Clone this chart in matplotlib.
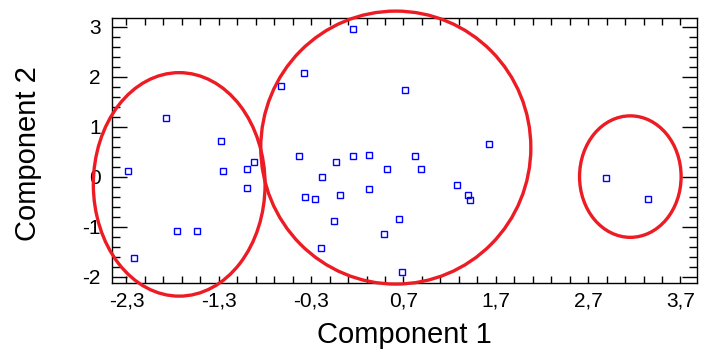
import matplotlib
matplotlib.use("Agg")
import matplotlib.pyplot as plt
from matplotlib.patches import Ellipse
from matplotlib.ticker import FixedLocator, FuncFormatter
import numpy as np

plt.rcParams['font.family'] = ['Liberation Sans', 'DejaVu Sans']

comp1 = [-2.28, -1.87, -2.22, -1.75, -1.54, -1.28, -1.26, -0.99, -0.92, -0.99, -0.63,
         0.157, -0.374, 0.72, 1.63, -0.428, -0.027, 0.157, 0.33, 0.83, 0.525, 0.894,
         -0.179, 1.284, 1.40, 1.425, -0.363, -0.254, 0.016, 0.33, -0.049, 0.656,
         0.493, -0.19, 0.688, 2.89, 3.35]
comp2 = [0.11, 1.17, -1.63, -1.09, -1.09, 0.71, 0.11, 0.15, 0.29, -0.23, 1.81,
         2.95, 2.07, 1.73, 0.65, 0.41, 0.29, 0.41, 0.43, 0.41, 0.15, 0.15,
         -0.01, -0.17, -0.37, -0.47, -0.41, -0.45, -0.37, -0.25, -0.89, -0.85,
         -1.15, -1.43, -1.91, -0.03, -0.45]

# cluster ellipses: center x, center y, width, height
ell_cx = [-1.729, 0.617, 3.157]
ell_cy = [-0.152, 0.584, 0.004]
ell_w = [1.86, 2.925, 1.10]
ell_h = [4.47, 5.46, 2.43]

xticks = [-2.3, -1.3, -0.3, 0.7, 1.7, 2.7, 3.7]
yticks = [-2, -1, 0, 1, 2, 3]

fig = plt.figure(figsize=(7.17, 3.59), dpi=100)
ax = fig.add_axes([0.1558, 0.2109, 0.9717 - 0.1558, 0.949 - 0.2109])

ax.plot(comp1, comp2, linestyle='none', marker='s', markersize=5,
        markerfacecolor='none', markeredgecolor='#0000FF', markeredgewidth=1.0, zorder=3)

for cx, cy, w, h in zip(ell_cx, ell_cy, ell_w, ell_h):
    e = Ellipse((cx, cy), w, h, fill=False, edgecolor='#ED1C24', linewidth=2.4,
                clip_on=False, zorder=4)
    ax.add_patch(e)

ax.set_xlim(-2.46, 3.876)
ax.set_ylim(-2.13, 3.17)

ax.xaxis.set_major_locator(FixedLocator(xticks))
ax.xaxis.set_minor_locator(FixedLocator(np.round(np.arange(-2.3, 3.9, 0.2), 2)))
ax.yaxis.set_major_locator(FixedLocator(yticks))
ax.yaxis.set_minor_locator(FixedLocator(np.round(np.arange(-2.0, 3.2, 0.2), 2)))

ax.xaxis.set_major_formatter(FuncFormatter(lambda v, p: ('%.1f' % v).replace('.', ',')))
ax.yaxis.set_major_formatter(FuncFormatter(lambda v, p: '%d' % round(v)))

ax.tick_params(axis='both', which='both', direction='in', top=True, right=True,
               colors='black', width=1.0)
ax.tick_params(axis='x', which='major', length=5, pad=6, labelsize=15)
ax.tick_params(axis='x', which='minor', length=5)
ax.tick_params(axis='y', which='major', length=11, pad=8, labelsize=15)
ax.tick_params(axis='y', which='minor', length=6)

for s in ax.spines.values():
    s.set_linewidth(1.0)

ax.set_xlabel('Component 1', fontsize=21)
ax.set_ylabel('Component 2', fontsize=21)
ax.xaxis.set_label_coords(0.5, -0.142)
ax.yaxis.set_label_coords(-0.119, 0.49)

fig.savefig('out.png', dpi=100)
